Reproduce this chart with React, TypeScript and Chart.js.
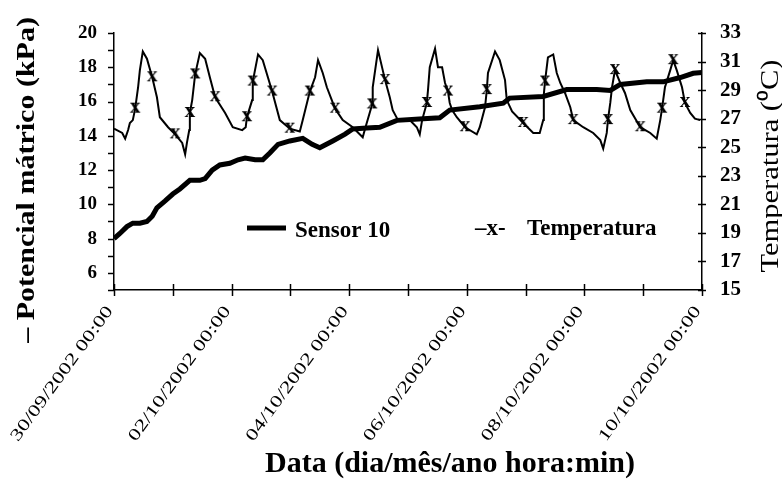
import React, { useEffect, useRef } from 'react';
import { Chart, registerables } from 'chart.js';

Chart.register(...registerables);

// Sensor 10 (matric potential, kPa) — x in days since 30/09/2002 00:00
const sensorDays = [0.00, 0.10, 0.22, 0.32, 0.44, 0.56, 0.65, 0.73, 0.87, 1.00, 1.12, 1.29, 1.46, 1.55, 1.67, 1.80, 1.97, 2.11, 2.23, 2.40, 2.53, 2.65, 2.79, 2.99, 3.21, 3.37, 3.50, 3.72, 3.93, 4.06, 4.30, 4.52, 4.81, 5.26, 5.54, 5.71, 6.22, 6.62, 6.73, 7.30, 7.70, 8.21, 8.44, 8.61, 9.06, 9.34, 9.63, 9.85, 10.00];
const sensorKPa = [8.0, 8.3, 8.7, 8.9, 8.9, 9.0, 9.3, 9.8, 10.2, 10.6, 10.9, 11.4, 11.4, 11.5, 12.0, 12.3, 12.4, 12.6, 12.7, 12.6, 12.6, 13.0, 13.5, 13.7, 13.85, 13.5, 13.3, 13.7, 14.1, 14.4, 14.45, 14.5, 14.9, 15.0, 15.05, 15.5, 15.7, 15.9, 16.2, 16.3, 16.7, 16.7, 16.65, 17.0, 17.15, 17.15, 17.4, 17.65, 17.7];

// Temperature (°C)
const tempDays = [0.00, 0.14, 0.19, 0.24, 0.27, 0.32, 0.36, 0.41, 0.44, 0.49, 0.56, 0.65, 0.73, 0.78, 0.92, 1.04, 1.16, 1.21, 1.24, 1.28, 1.29, 1.33, 1.38, 1.46, 1.55, 1.63, 1.72, 1.89, 2.02, 2.18, 2.24, 2.26, 2.35, 2.36, 2.45, 2.53, 2.69, 2.82, 2.99, 3.16, 3.21, 3.33, 3.42, 3.47, 3.55, 3.62, 3.76, 3.89, 4.06, 4.23, 4.27, 4.39, 4.40, 4.49, 4.61, 4.69, 4.74, 4.83, 5.03, 5.15, 5.20, 5.24, 5.32, 5.34, 5.37, 5.46, 5.51, 5.58, 5.63, 5.68, 5.71, 5.75, 5.83, 5.97, 6.17, 6.22, 6.31, 6.34, 6.36, 6.48, 6.56, 6.65, 6.68, 6.77, 6.96, 7.13, 7.24, 7.30, 7.31, 7.33, 7.38, 7.47, 7.53, 7.59, 7.67, 7.76, 7.81, 7.98, 8.15, 8.27, 8.32, 8.38, 8.40, 8.44, 8.47, 8.52, 8.61, 8.69, 8.78, 8.95, 9.12, 9.23, 9.29, 9.32, 9.37, 9.46, 9.51, 9.57, 9.66, 9.71, 9.80, 9.88, 9.97];
const tempC = [26.3, 26.0, 25.6, 26.2, 26.7, 26.9, 27.7, 29.2, 30.4, 31.7, 31.2, 29.9, 28.5, 27.1, 26.4, 25.9, 25.3, 24.5, 25.3, 26.2, 27.4, 28.3, 30.1, 31.6, 31.2, 29.9, 28.5, 27.4, 26.4, 26.2, 26.4, 27.1, 28.3, 29.6, 31.5, 31.1, 28.9, 26.9, 26.3, 26.1, 26.9, 28.9, 29.9, 31.1, 30.2, 29.2, 27.7, 26.9, 26.4, 25.7, 26.3, 28.0, 29.2, 31.8, 29.7, 28.5, 27.6, 26.9, 26.9, 26.4, 25.9, 26.9, 28.1, 29.0, 30.6, 31.9, 30.6, 30.6, 29.5, 28.9, 28.1, 27.6, 27.1, 26.4, 25.9, 26.4, 27.8, 29.0, 30.2, 31.7, 31.1, 29.7, 28.3, 27.5, 26.7, 26.0, 26.0, 26.9, 28.7, 29.6, 31.3, 31.5, 30.2, 29.5, 28.8, 27.8, 26.9, 26.4, 26.0, 25.5, 24.9, 26.0, 26.9, 28.1, 29.2, 30.4, 29.5, 28.8, 27.6, 26.4, 26.0, 25.6, 26.9, 27.7, 29.2, 30.4, 31.1, 30.4, 29.2, 28.1, 27.4, 27.0, 26.9];
const tempMarks = [0, 0, 0, 0, 0, 0, 1, 0, 0, 0, 0, 1, 0, 0, 0, 1, 0, 0, 0, 0, 1, 0, 1, 0, 0, 0, 1, 0, 0, 0, 0, 1, 0, 1, 0, 0, 1, 0, 1, 0, 0, 1, 0, 0, 0, 0, 1, 0, 0, 0, 0, 1, 0, 0, 1, 0, 0, 0, 0, 0, 0, 0, 1, 0, 0, 0, 0, 0, 0, 1, 0, 0, 0, 1, 0, 0, 0, 1, 0, 0, 0, 0, 0, 0, 1, 0, 0, 0, 0, 1, 0, 0, 0, 0, 0, 0, 1, 0, 0, 0, 0, 0, 1, 0, 0, 1, 0, 0, 0, 1, 0, 0, 0, 1, 0, 0, 1, 0, 0, 1, 0, 0, 0];

const xTickDays = [0, 1, 2, 3, 4, 5, 6, 7, 8, 9, 10];
const xLabelDays = [0, 2, 4, 6, 8, 10];
const xLabels = ['30/09/2002 00:00', '02/10/2002 00:00', '04/10/2002 00:00', '06/10/2002 00:00', '08/10/2002 00:00', '10/10/2002 00:00'];
const leftTicks = [6, 8, 10, 12, 14, 16, 18, 20];
const rightTicks = [15, 17, 19, 21, 23, 25, 27, 29, 31, 33];

const xTitle = 'Data (dia/mês/ano hora:min)';
const leftTitle = '– Potencial mátrico (kPa)';
const rightTitle = 'Temperatura (⁰C)';
const legendSensor = 'Sensor 10';
const legendTemp = 'Temperatura';

const SERIF = '"Liberation Serif", "Times New Roman", serif';

export default function App() {
  const ref = useRef<HTMLCanvasElement | null>(null);

  useEffect(() => {
    const canvas = ref.current;
    if (!canvas) return;

    const mk = document.createElement('canvas');
    mk.width = 16;
    mk.height = 18;
    const mc = mk.getContext('2d')!;
    mc.fillStyle = '#000';
    mc.font = `bold 21px ${SERIF}`;
    mc.textAlign = 'center';
    mc.textBaseline = 'middle';
    mc.fillText('x', 8, 8);

    const decor = {
      id: 'decor',
      afterDraw(chart: any) {
        const ctx = chart.ctx as CanvasRenderingContext2D;
        const xs = chart.scales.x;
        const yl = chart.scales.y;
        const yr = chart.scales.y1;
        const area = chart.chartArea;
        ctx.save();
        ctx.strokeStyle = '#000';
        ctx.fillStyle = '#000';
        ctx.lineWidth = 1.5;
        for (let v = 5; v <= 20; v++) {
          const y = Math.round(yl.getPixelForValue(v)) + 0.5;
          ctx.beginPath();
          ctx.moveTo(area.left - 6, y);
          ctx.lineTo(area.left, y);
          ctx.stroke();
        }
        rightTicks.forEach((v) => {
          const y = Math.round(yr.getPixelForValue(v)) + 0.5;
          ctx.beginPath();
          ctx.moveTo(area.right - 4, y);
          ctx.lineTo(area.right + 4, y);
          ctx.stroke();
        });
        xTickDays.forEach((d) => {
          const x = Math.round(xs.getPixelForValue(d)) + 0.5;
          ctx.beginPath();
          ctx.moveTo(x, area.bottom - 6);
          ctx.lineTo(x, area.bottom + 6);
          ctx.stroke();
        });
        ctx.font = `17px ${SERIF}`;
        ctx.textAlign = 'right';
        ctx.textBaseline = 'middle';
        xLabelDays.forEach((d, i) => {
          const x = xs.getPixelForValue(d);
          ctx.save();
          ctx.translate(x - 4, area.bottom + 18);
          ctx.rotate((-54 * Math.PI) / 180);
          ctx.scale(1.35, 1);
          ctx.fillText(xLabels[i], 0, 0);
          ctx.restore();
        });
        ctx.font = `bold 30px ${SERIF}`;
        ctx.textAlign = 'center';
        ctx.textBaseline = 'alphabetic';
        ctx.fillText(xTitle, 450, 472);
        ctx.save();
        ctx.translate(34, 180);
        ctx.rotate(-Math.PI / 2);
        ctx.scale(1.2, 1);
        ctx.font = `bold 25px ${SERIF}`;
        ctx.fillText(leftTitle, 0, 0);
        ctx.restore();
        ctx.save();
        ctx.translate(778, 166);
        ctx.rotate(-Math.PI / 2);
        ctx.scale(1.22, 1);
        ctx.font = `25px ${SERIF}`;
        ctx.fillText(rightTitle, 0, 0);
        ctx.restore();
        ctx.lineWidth = 5;
        ctx.beginPath();
        ctx.moveTo(247, 228);
        ctx.lineTo(286, 228);
        ctx.stroke();
        ctx.font = `bold 23px ${SERIF}`;
        ctx.textAlign = 'left';
        ctx.fillText(legendSensor, 295, 237);
        ctx.fillText('–x-', 475, 235);
        ctx.fillText(legendTemp, 527, 235);
        ctx.restore();
      },
    };

    const chart = new Chart(canvas, {
      type: 'line',
      data: {
        datasets: [
          {
            label: legendSensor,
            data: sensorDays.map((d, i) => ({ x: d, y: sensorKPa[i] })),
            borderColor: '#000',
            borderWidth: 5,
            pointRadius: 0,
            yAxisID: 'y',
            tension: 0,
          },
          {
            label: legendTemp,
            data: tempDays.map((d, i) => ({ x: d, y: tempC[i] })),
            borderColor: '#000',
            borderWidth: 2,
            pointRadius: tempMarks.map((m) => (m ? 6 : 0)),
            pointStyle: mk as any,
            yAxisID: 'y1',
            tension: 0,
          },
        ],
      },
      options: {
        animation: false,
        responsive: false,
        layout: { padding: { top: 33, left: 0, right: 0, bottom: 0 } },
        plugins: { legend: { display: false }, tooltip: { enabled: false } },
        scales: {
          x: {
            type: 'linear',
            min: 0,
            max: 10,
            grid: { display: false },
            border: { display: true, color: '#000', width: 1.5 },
            ticks: { display: false },
            afterFit: (s: any) => {
              s.height = 189;
            },
          },
          y: {
            position: 'left',
            min: 5,
            max: 20,
            grid: { display: false },
            border: { display: true, color: '#000', width: 1.5 },
            ticks: {
              stepSize: 1,
              autoSkip: false,
              padding: 9,
              color: '#000',
              font: { family: SERIF, size: 19, weight: 'bold' },
              callback: (v: any) => (leftTicks.includes(Number(v)) ? String(v) : ''),
            },
            afterFit: (s: any) => {
              s.width = 114;
            },
          },
          y1: {
            position: 'right',
            min: 15,
            max: 33,
            grid: { display: false },
            border: { display: true, color: '#000', width: 1.5 },
            ticks: {
              stepSize: 2,
              autoSkip: false,
              padding: 10,
              color: '#000',
              font: { family: SERIF, size: 21, weight: 'bold' },
              callback: (v: any) => (rightTicks.includes(Number(v)) ? String(v) : ''),
            },
            afterFit: (s: any) => {
              s.width = 80;
            },
          },
        },
      },
      plugins: [decor],
    });

    return () => chart.destroy();
  }, []);

  return (
    <div style={{ position: 'fixed', left: 0, top: 0, width: 782, height: 479, background: '#fff' }}>
      <canvas ref={ref} width={782} height={479} style={{ display: 'block' }} />
    </div>
  );
}
